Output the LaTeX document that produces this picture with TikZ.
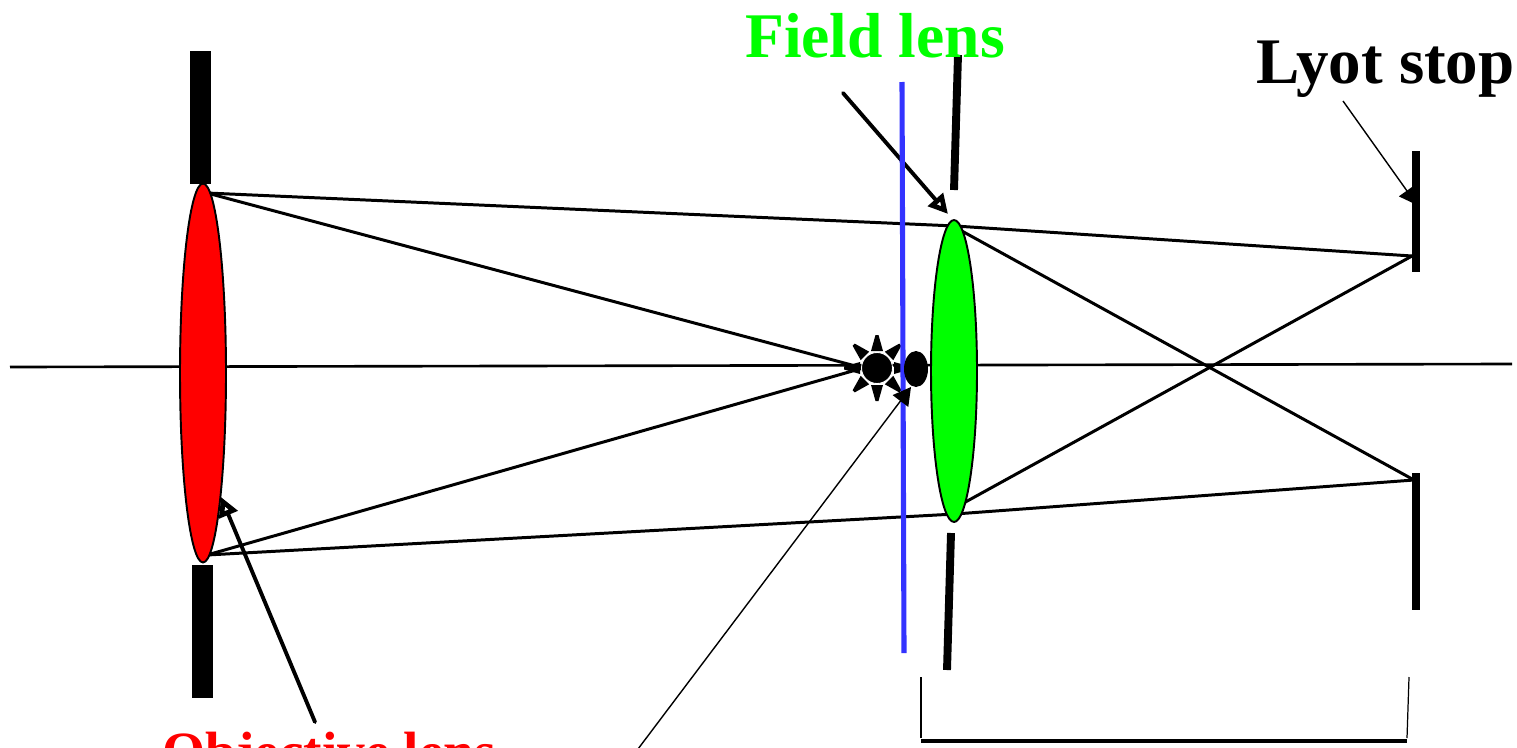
\documentclass[tikz,border=0pt]{standalone}
\usepackage{fontspec}
\setmainfont{Liberation Serif}
\usetikzlibrary{shapes.geometric, arrows.meta, calc}

\definecolor{lensred}{RGB}{255,0,0}
\definecolor{lensgreen}{RGB}{0,255,0}
\definecolor{planeblue}{RGB}{51,51,255}

\begin{document}
\begin{tikzpicture}[
    x=0.02cm, y=-0.02cm,
    >=Latex,
    ray/.style={line width=1.7pt},
    pointer/.style={line width=2.2pt, line cap=round, -{Triangle[open, fill=white, length=11pt, width=11pt, line width=3pt]}},
    thinpointer/.style={line width=0.8pt, -{Triangle[length=10pt, width=11pt]}},
    stopbar/.style={line width=#1, line cap=butt},
    lens/.style={draw, ellipse, line width=1.1pt, inner sep=0pt},
    label/.style={font=\fontsize{36.2}{40}\selectfont\bfseries, anchor=base, inner sep=0pt}
]
\clip (0,0) rectangle (1517,747);

% end points of the rays and stops
\coordinate (AxisL) at (10,367);
\coordinate (AxisR) at (1512,364);
\coordinate (ObjTop) at (207,193);
\coordinate (ObjBot) at (207,555);
\coordinate (FieldTop) at (960,230);
\coordinate (FieldBot) at (960,505);
\coordinate (FieldBendT) at (955,226);
\coordinate (FieldBendB) at (955,514);
\coordinate (LyotTop) at (1412,256);
\coordinate (LyotBot) at (1414,480);
\coordinate (StarW) at (863,368);
\coordinate (PlaneTop) at (902,82);
\coordinate (PlaneBot) at (904,653);
\coordinate (BracketL) at (921,741);
\coordinate (BracketR) at (1407,741);
\coordinate (FieldTip) at (948,214);
\coordinate (ObjTip) at (221,497);

\draw[line width=1.5pt] (AxisL) -- (AxisR);
\draw[ray] (ObjTop) -- (StarW);
\draw[ray] (ObjBot) -- (StarW);
\draw[ray] (ObjTop) -- (FieldBendT) -- (LyotTop);
\draw[ray] (ObjBot) -- (FieldBendB) -- (LyotBot);
\draw[ray] (FieldTop) -- (LyotBot);
\draw[ray] (FieldBot) -- (LyotTop);

\draw[thinpointer] (1343,101) -- (1417,205);

\fill (190,51) rectangle (211,184);
\fill (192,565) rectangle (213,698);
\draw[stopbar=4.5pt] (958,55) -- (954,190);
\draw[stopbar=4.5pt] (951,533) -- (947,670);
\draw[stopbar=4.5pt] (1416,151) -- (1416,272);
\draw[stopbar=4.5pt] (1416,473) -- (1416,610);

\node[lens, fill=lensred, minimum width=0.92cm, minimum height=7.58cm] (ObjLens) at (203,373) {};
\node[lens, fill=lensgreen, minimum width=0.92cm, minimum height=6.04cm] (FieldLens) at (954,371) {};

\node[label, text=lensgreen] (FieldLabel) at (875,57) {Field lens};
\node[label, font=\fontsize{37}{40}\selectfont\bfseries] (LyotLabel) at (1385.5,83) {Lyot stop};
\node[label, text=lensred, anchor=base west, font=\fontsize{31.5}{36}\selectfont\bfseries] (ObjLabel) at (162,770) {Objective lens};

% the star and the spot beside it
\coordinate (StarC) at (877,368);
\foreach \a in {0,45,...,315}
    \fill ($(StarC)+(\a:17)+(\a+90:6)$) -- ($(StarC)+(\a:33)+(\a+90:1.5)$) -- ($(StarC)+(\a:33)+(\a-90:1.5)$) -- ($(StarC)+(\a:17)+(\a-90:6)$) -- cycle;
\node[circle, fill, draw=white, line width=0.5pt, minimum size=0.62cm, inner sep=0pt] (Star) at (StarC) {};

\draw[pointer] (843,93) -- (FieldTip);
\draw[pointer] (315,722) -- (ObjTip);
\draw[line width=2.9pt, planeblue] (PlaneTop) -- (PlaneBot);
\node[ellipse, fill, minimum width=0.48cm, minimum height=0.72cm, inner sep=0pt] (Spot) at (916,369) {};

\draw[thinpointer] (638,749) -- (911,387);

\draw[line width=0.7pt] (921,677) -- (921,738);
\draw[line width=0.7pt] (1409,677) -- (1407,738);
\draw[line width=2.2pt] (BracketL) -- (BracketR);
\end{tikzpicture}
\end{document}
